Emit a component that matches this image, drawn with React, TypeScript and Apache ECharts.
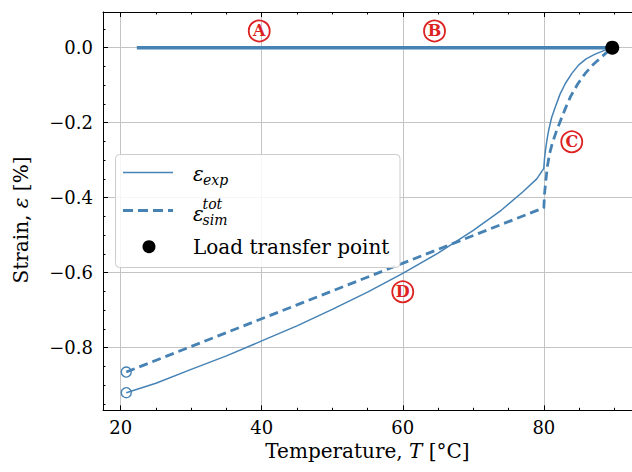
import { useEffect, useRef } from 'react';
import * as echarts from 'echarts';

const STEEL = '#4682b4';
const RED = '#dd2222';
const SERIF = '"DejaVu Serif", serif';
const GRID_GREY = '#c4c4c4';

// Heating branch (A → B): strain stays at zero up to the load transfer point
const heatT = [22.3, 89.7];
const heatStrain = [0, 0];

// Measured strain during cooling, ε_exp
const expT = [20.8, 25, 30, 35, 40, 45, 50, 55, 60, 65, 70, 74, 77, 79, 80, 80.1, 80.24, 80.45, 80.7, 81.1, 81.65, 82.3, 83.07, 84.0, 84.95, 86.0, 87.2, 88.5, 89.7];
const expStrain = [-0.92, -0.895, -0.858, -0.822, -0.782, -0.742, -0.698, -0.652, -0.602, -0.548, -0.487, -0.433, -0.385, -0.35, -0.322, -0.295, -0.273, -0.245, -0.219, -0.187, -0.157, -0.124, -0.095, -0.068, -0.046, -0.03, -0.018, -0.008, 0];

// Simulated total strain during cooling, ε_sim^tot
const simT = [20.8, 80, 80.1, 80.24, 80.5, 80.8, 81.2, 81.8, 82.4, 83.1, 83.8, 84.8, 85.9, 87.0, 88.0, 89.2, 89.7];
const simStrain = [-0.865, -0.427, -0.39, -0.362, -0.317, -0.284, -0.255, -0.222, -0.193, -0.16, -0.13, -0.097, -0.068, -0.045, -0.028, -0.008, 0];

// Load transfer point
const transferT = [89.7];
const transferStrain = [0];

// Stage markers
const stageLetters = ['A', 'B', 'C', 'D'];
const stageT = [39.65, 64.5, 83.96, 60.0];
const stageStrain = [0.0445, 0.0445, -0.251, -0.651];

// Axis ticks
const xMajor = [20, 40, 60, 80];
const xMinor = [25, 30, 35, 45, 50, 55, 65, 70, 75, 85, 90];
const yMajor = [-0.8, -0.6, -0.4, -0.2, 0];
const yMinor = [-0.95, -0.9, -0.85, -0.75, -0.7, -0.65, -0.55, -0.5, -0.45, -0.35, -0.3, -0.25, -0.15, -0.1, -0.05, 0.05];

const X_MIN = 17.5;
const X_MAX = 92.5;
const Y_MIN = -0.967;
const Y_MAX = 0.095;

const pairs = (xs: number[], ys: number[]) => xs.map((x, i) => [x, ys[i]]);

const fmtY = (v: number) => (v < -1e-9 ? '\u2212' : '') + Math.abs(v).toFixed(1);

function tickAxis(position: string, values: number[], length: number, withLine: boolean) {
  return {
    type: 'value',
    position,
    axisLine: { show: withLine, onZero: false, lineStyle: { color: '#000', width: 1 } },
    axisTick: { show: true, inside: true, length, customValues: values, lineStyle: { color: '#000', width: 1 } },
    axisLabel: { show: false },
    splitLine: { show: false },
  };
}

export default function App() {
  const ref = useRef<HTMLDivElement>(null);

  useEffect(() => {
    const chart = echarts.init(ref.current!, null, { renderer: 'svg' });

    const xRange = { min: X_MIN, max: X_MAX };
    const yRange = { min: Y_MIN, max: Y_MAX };

    const legendText = (text: string, x: number, y: number, size: number, italic: boolean) => ({
      type: 'text',
      x,
      y,
      z: 102,
      style: {
        text,
        fill: '#000',
        fontFamily: SERIF,
        fontSize: size,
        fontStyle: italic ? 'italic' : 'normal',
        verticalAlign: 'middle',
        align: 'left',
      },
    });

    chart.setOption({
      animation: false,
      backgroundColor: '#fff',
      grid: { left: 103, right: -1.4, top: 12, bottom: 61.7, containLabel: false },
      xAxis: [
        {
          type: 'value',
          ...xRange,
          position: 'bottom',
          axisLine: { show: true, onZero: false, lineStyle: { color: '#000', width: 1 } },
          axisTick: { show: true, inside: true, length: 5, customValues: xMajor, lineStyle: { color: '#000', width: 1 } },
          axisLabel: { show: true, customValues: xMajor, margin: 8, fontFamily: SERIF, fontSize: 18, color: '#000' },
          splitLine: { show: true, lineStyle: { color: GRID_GREY, width: 1 } },
          name: '{r|Temperature, }{i|T}{r| [°C]}',
          nameLocation: 'middle',
          nameGap: 28,
          nameTextStyle: {
            rich: {
              r: { fontFamily: SERIF, fontSize: 20, color: '#000' },
              i: { fontFamily: SERIF, fontSize: 20, fontStyle: 'italic', color: '#000' },
            },
          },
        },
        { ...tickAxis('bottom', xMinor, 2.5, false), ...xRange },
        { ...tickAxis('top', xMajor, 5, true), ...xRange },
        { ...tickAxis('top', xMinor, 2.5, false), ...xRange },
      ],
      yAxis: [
        {
          type: 'value',
          ...yRange,
          position: 'left',
          axisLine: { show: true, onZero: false, lineStyle: { color: '#000', width: 1 } },
          axisTick: { show: true, inside: true, length: 5, customValues: yMajor, lineStyle: { color: '#000', width: 1 } },
          axisLabel: { show: true, customValues: yMajor, margin: 10, fontFamily: SERIF, fontSize: 18, color: '#000', formatter: fmtY },
          splitLine: { show: true, lineStyle: { color: GRID_GREY, width: 1 } },
        },
        { ...tickAxis('left', yMinor, 2.5, false), ...yRange },
      ],
      series: [
        {
          name: 'heating',
          type: 'line',
          data: pairs(heatT, heatStrain),
          showSymbol: false,
          symbol: 'none',
          lineStyle: { color: STEEL, width: 3.5 },
          z: 3,
        },
        {
          name: 'exp',
          type: 'line',
          data: pairs(expT, expStrain),
          symbol: 'none',
          lineStyle: { color: STEEL, width: 1.5 },
          z: 3,
        },
        {
          name: 'sim',
          type: 'line',
          data: pairs(simT, simStrain),
          symbol: 'none',
          lineStyle: { color: STEEL, width: 2.8, type: [9, 5] },
          z: 3,
        },
        {
          name: 'start',
          type: 'scatter',
          data: [
            [expT[0], expStrain[0]],
            [simT[0], simStrain[0]],
          ],
          symbol: 'circle',
          symbolSize: 10,
          itemStyle: { color: 'rgba(255,255,255,0)', opacity: 1, borderColor: STEEL, borderWidth: 1.4 },
          z: 4,
        },
        {
          name: 'transfer',
          type: 'scatter',
          data: pairs(transferT, transferStrain),
          symbol: 'circle',
          symbolSize: 14,
          itemStyle: { color: '#000', opacity: 1 },
          z: 5,
        },
        {
          name: 'stages',
          type: 'scatter',
          data: stageT.map((t, i) => ({ value: [t, stageStrain[i]], name: stageLetters[i] })),
          symbol: 'circle',
          symbolSize: 21,
          itemStyle: { color: 'rgba(255,255,255,0)', opacity: 1, borderColor: RED, borderWidth: 1.8 },
          label: {
            show: true,
            position: 'inside',
            formatter: (p: any) => p.name,
            color: RED,
            fontFamily: SERIF,
            fontWeight: 'bold',
            fontSize: 16,
          },
          z: 6,
        },
      ],
      graphic: [
        {
          type: 'text',
          x: 21,
          y: 220,
          rotation: Math.PI / 2,
          style: {
            text: '{r|Strain, }{i|ε}{r| [%]}',
            align: 'center',
            verticalAlign: 'middle',
            rich: {
              r: { fontFamily: SERIF, fontSize: 20, fill: '#000' },
              i: { fontFamily: SERIF, fontSize: 20, fontStyle: 'italic', fill: '#000' },
            },
          },
        },
        {
          type: 'rect',
          z: 100,
          shape: { x: 115.5, y: 154.5, width: 284.5, height: 113, r: 4 },
          style: { fill: 'rgba(255,255,255,0.85)', stroke: '#cccccc', lineWidth: 1 },
        },
        {
          type: 'line',
          z: 101,
          shape: { x1: 123, y1: 172.5, x2: 173, y2: 172.5 },
          style: { stroke: STEEL, lineWidth: 1.5 },
        },
        {
          type: 'line',
          z: 101,
          shape: { x1: 123, y1: 210.5, x2: 173, y2: 210.5 },
          style: { stroke: STEEL, lineWidth: 3, lineDash: [10, 5] },
        },
        {
          type: 'circle',
          z: 101,
          shape: { cx: 149, cy: 246.7, r: 6.5 },
          style: { fill: '#000' },
        },
        legendText('ε', 193, 173.5, 20, true),
        legendText('exp', 203, 180, 14, true),
        legendText('ε', 193, 213.5, 20, true),
        legendText('tot', 202.5, 204, 14, true),
        legendText('sim', 202.5, 220, 14, true),
        legendText('Load transfer point', 193, 247, 20, false),
      ],
    });

    return () => chart.dispose();
  }, []);

  return (
    <div
      ref={ref}
      style={{ position: 'fixed', left: 0, top: 0, width: 632, height: 472, background: '#fff' }}
    />
  );
}
